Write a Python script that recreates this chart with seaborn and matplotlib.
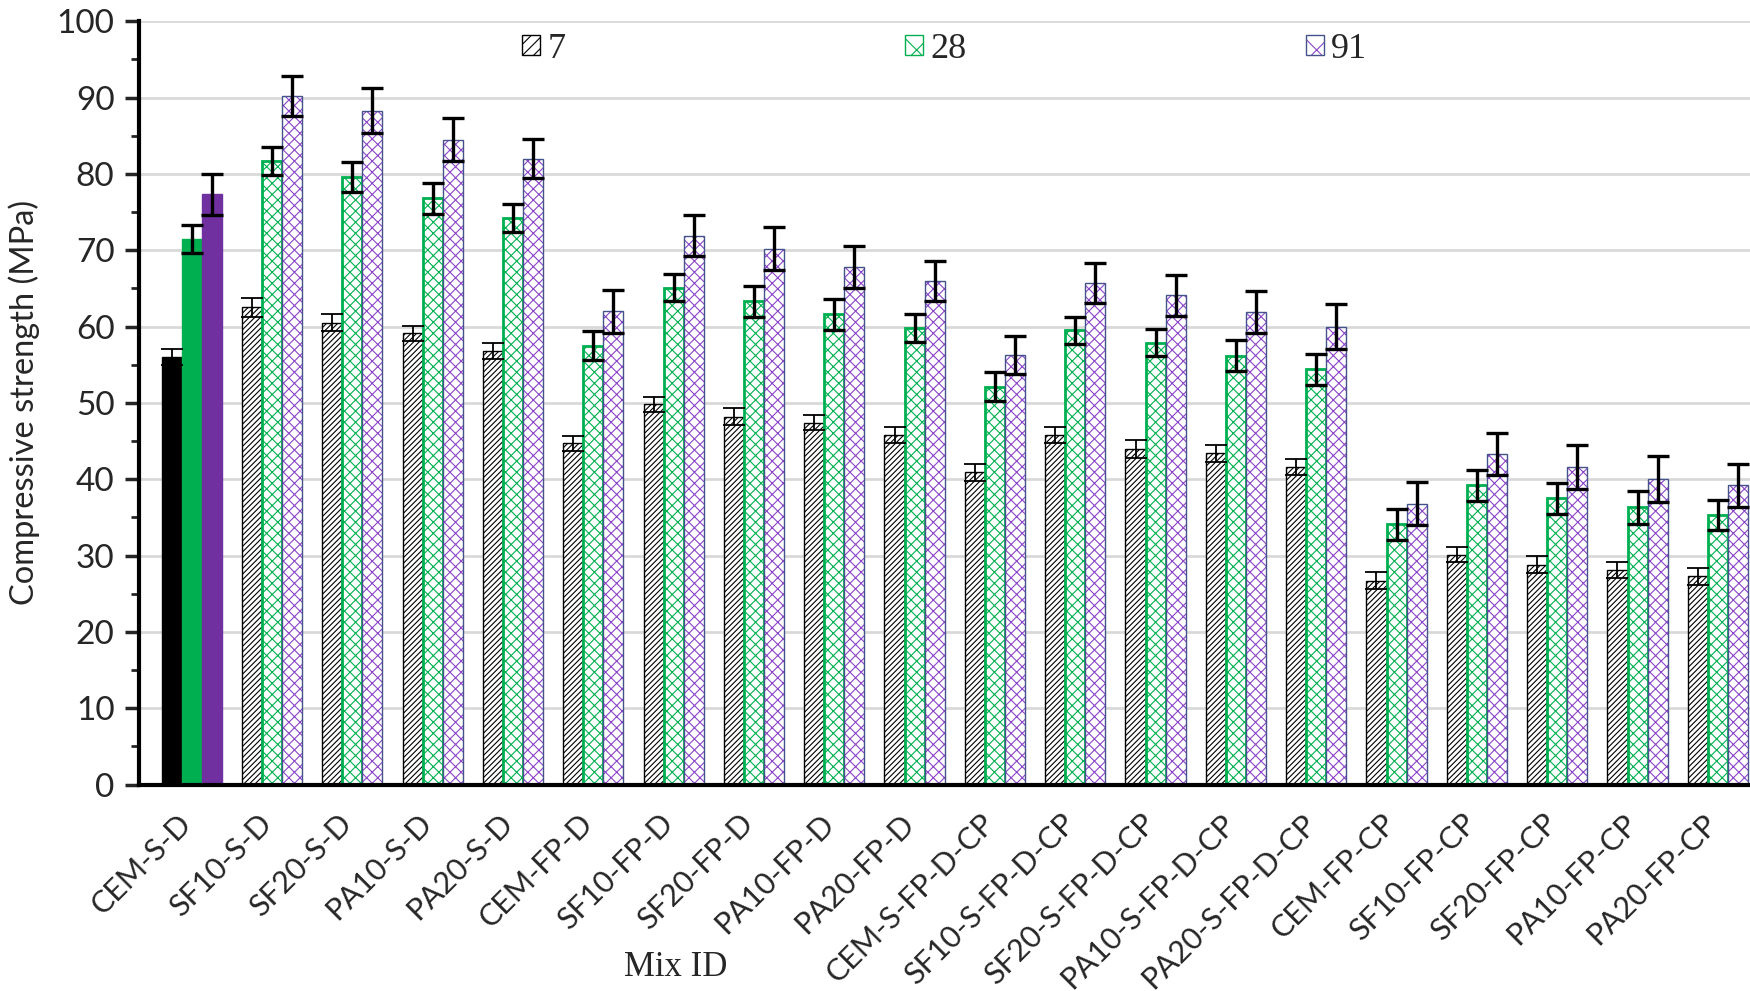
import numpy as np
import pandas as pd
import seaborn as sns
import matplotlib.pyplot as plt
import matplotlib.transforms as mtransforms
from matplotlib.colors import to_rgba
from matplotlib.ticker import MultipleLocator

# mix names on the x axis
mixes = ['CEM-S-D', 'SF10-S-D', 'SF20-S-D', 'PA10-S-D', 'PA20-S-D',
         'CEM-FP-D', 'SF10-FP-D', 'SF20-FP-D', 'PA10-FP-D', 'PA20-FP-D',
         'CEM-S-FP-D-CP', 'SF10-S-FP-D-CP', 'SF20-S-FP-D-CP', 'PA10-S-FP-D-CP', 'PA20-S-FP-D-CP',
         'CEM-FP-CP', 'SF10-FP-CP', 'SF20-FP-CP', 'PA10-FP-CP', 'PA20-FP-CP']
ages = ['7', '28', '91']

# compressive strength (MPa)
day7 = [56.0, 62.5, 60.5, 59.1, 56.8, 44.7, 49.8, 48.2, 47.4, 45.8,
        40.9, 45.8, 44.0, 43.4, 41.6, 26.7, 30.1, 28.8, 28.1, 27.3]
day28 = [71.5, 81.7, 79.6, 76.8, 74.2, 57.5, 65.1, 63.3, 61.6, 59.8,
         52.1, 59.5, 57.9, 56.2, 54.4, 34.1, 39.2, 37.5, 36.3, 35.3]
day91 = [77.3, 90.2, 88.3, 84.5, 82.0, 62.0, 71.9, 70.2, 67.8, 66.0,
         56.3, 65.7, 64.1, 61.9, 60.0, 36.8, 43.3, 41.6, 40.0, 39.2]

# error bar half-lengths
err7 = [1.0, 1.3, 1.1, 1.0, 1.1, 1.0, 1.0, 1.1, 1.0, 1.1,
        1.1, 1.1, 1.2, 1.1, 1.1, 1.1, 1.0, 1.1, 1.1, 1.1]
err28 = [1.8, 1.8, 2.0, 2.0, 1.8, 1.9, 1.8, 2.0, 2.0, 1.8,
         1.9, 1.8, 1.8, 2.0, 2.0, 2.0, 2.0, 2.0, 2.1, 2.0]
err91 = [2.7, 2.6, 2.9, 2.8, 2.6, 2.8, 2.7, 2.8, 2.7, 2.6,
         2.5, 2.6, 2.7, 2.8, 3.0, 2.8, 2.8, 2.9, 3.0, 2.8]

df = pd.DataFrame({
    'mix': mixes * 3,
    'age': np.repeat(ages, len(mixes)),
    'strength': day7 + day28 + day91,
})
errs = [err7, err28, err91]

green = '#00B050'
purple = '#7030A0'
navy = '#44548A'
solid = ['black', green, purple]
edges = ['black', green, navy]
hatch_cols = ['black', green, '#8B45C8']
hatches = ['//////', 'xxx', 'xxx']


def set_hatch_col(p, c):
    # hatch colour separate from the outline colour
    if hasattr(p, 'set_hatchcolor'):
        p.set_hatchcolor(c)
    else:
        p._hatch_color = to_rgba(c)


sns.set_style('white')
plt.rcParams['hatch.linewidth'] = 0.8

fig = plt.figure(figsize=(17.5, 9.91), dpi=100)
ax = fig.add_axes([0.0797, 0.2083, 0.9203, 0.7703])

sns.barplot(data=df, x='mix', y='strength', hue='age', hue_order=ages,
            order=mixes, width=0.75, errorbar=None, ax=ax, legend=True)

bar_conts = list(ax.containers)
for k, cont in enumerate(bar_conts):
    for j, bar in enumerate(cont.patches):
        if j == 0:
            bar.set_facecolor(solid[k])
            bar.set_edgecolor(solid[k])
            bar.set_hatch('')
            bar.set_linewidth(1)
        else:
            bar.set_facecolor('white')
            bar.set_edgecolor(edges[k])
            bar.set_hatch(hatches[k])
            set_hatch_col(bar, hatch_cols[k])
            bar.set_linewidth(2.0 if k == 1 else 1.0)
    xs = [b.get_x() + b.get_width() / 2 for b in cont.patches]
    ys = [b.get_height() for b in cont.patches]
    ax.errorbar(xs, ys, yerr=errs[k], fmt='none', ecolor='black',
                elinewidth=1.3 if k == 0 else 2.4,
                capthick=1.3 if k == 0 else 2.4, capsize=8, zorder=5)

ax.set_xlim(-0.65, 19.4)
ax.set_ylim(0, 100)
ax.yaxis.set_major_locator(MultipleLocator(10))
ax.yaxis.set_minor_locator(MultipleLocator(5))
ax.grid(axis='y', color='#D9D9D9', linewidth=2)
ax.set_axisbelow(True)

for s in ['top', 'right']:
    ax.spines[s].set_visible(False)
ax.spines['left'].set_linewidth(3)
ax.spines['bottom'].set_linewidth(3)
ax.spines['left'].set_color('black')
ax.spines['bottom'].set_color('black')

ax.tick_params(axis='y', which='major', direction='out', length=10, width=2.5,
               left=True, labelsize=24, pad=8)
ax.tick_params(axis='y', which='minor', direction='out', length=6, width=2, left=True)
ax.tick_params(axis='x', bottom=False, labelsize=22, pad=21)
for lab in ax.get_yticklabels():
    lab.set_family('Lato')
# nudge the slanted names a little left
shift = mtransforms.ScaledTranslation(-0.05, 0, fig.dpi_scale_trans)
for lab in ax.get_xticklabels():
    lab.set_rotation(45)
    lab.set_ha('right')
    lab.set_va('center')
    lab.set_rotation_mode('anchor')
    lab.set_family('Lato')
    lab.set_transform(lab.get_transform() + shift)

ax.set_ylabel('Compressive strength (MPa)', fontsize=23.5, family='Lato', labelpad=12)
ax.set_xlabel('Mix ID', fontsize=25, family='Liberation Serif')
ax.xaxis.set_label_coords(0.333, -0.218)

# legend: patterned markers like the hatched bars
handles, labels = ax.get_legend_handles_labels()
for k, h in enumerate(handles):
    h.set_facecolor('white')
    h.set_edgecolor(edges[k])
    h.set_hatch(['///', 'x', 'x'][k])
    set_hatch_col(h, hatch_cols[k])
ax.legend(handles, labels, ncol=3, loc='center', bbox_to_anchor=(0.5, 0.963),
          frameon=False, prop={'family': 'Liberation Serif', 'size': 26},
          handlelength=0.5, handleheight=0.5, handletextpad=0.2, columnspacing=9.4)

fig.savefig('out.png', dpi=100)
